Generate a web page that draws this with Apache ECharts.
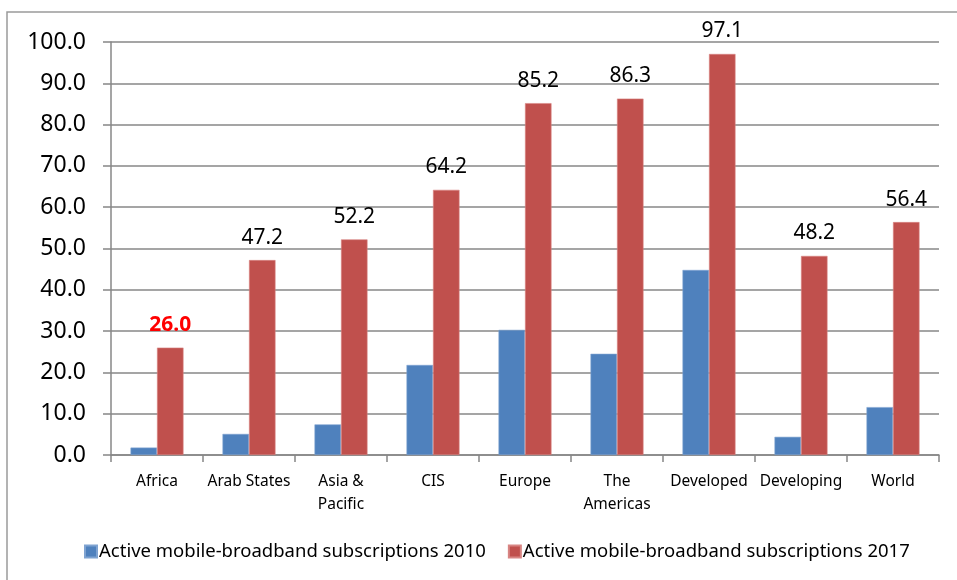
<!DOCTYPE html>
<html>
<head>
<meta charset="utf-8">
<script src="https://cdn.jsdelivr.net/npm/echarts@6/dist/echarts.min.js"></script>
<style>
  html, body { margin: 0; padding: 0; background: #fff; }
  #chart { width: 957px; height: 580px; }
</style>
</head>
<body>
<div id="chart"></div>
<script>
// Regions shown along the category axis
const regions = ['Africa', 'Arab States', 'Asia &\nPacific', 'CIS', 'Europe', 'The\nAmericas', 'Developed', 'Developing', 'World'];

// Active mobile-broadband subscriptions per 100 inhabitants
const subs2010 = [1.8, 5.1, 7.4, 21.8, 30.3, 24.5, 44.8, 4.4, 11.6];
const subs2017 = [26.0, 47.2, 52.2, 64.2, 85.2, 86.3, 97.1, 48.2, 56.4];

const seriesNames = ['Active mobile-broadband subscriptions 2010', 'Active mobile-broadband subscriptions 2017'];

const FONT = 'Noto Sans';
const GRID_GREY = '#878787';

// Africa's 2017 value is called out in bold red
const data2017 = subs2017.map((v, i) => i === 0
  ? { value: v, label: { color: '#ff0000', fontWeight: 'bold' } }
  : v);

const chart = echarts.init(document.getElementById('chart'), null, { renderer: 'canvas' });

chart.setOption({
  animation: false,
  backgroundColor: '#ffffff',
  textStyle: { fontFamily: FONT },
  graphic: [{
    type: 'rect',
    shape: { x: 7, y: 12, width: 980, height: 620 },
    style: { fill: 'none', stroke: '#9a9a9a', lineWidth: 1.5 },
    z: -1
  }],
  grid: { left: 111, right: 18, top: 42, bottom: 125, containLabel: false },
  legend: {
    left: 79,
    top: 537,
    itemWidth: 12,
    itemHeight: 12,
    itemGap: 22,
    icon: 'rect',
    textStyle: { fontFamily: FONT, fontSize: 18.5, color: '#000', padding: [0, 0, 0, -3] },
    data: seriesNames
  },
  xAxis: {
    type: 'category',
    data: regions,
    axisLine: { lineStyle: { color: GRID_GREY, width: 1.5 } },
    axisTick: { show: true, alignWithLabel: false, length: 7, lineStyle: { color: GRID_GREY, width: 1.5 } },
    axisLabel: { interval: 0, color: '#000', fontFamily: FONT, fontSize: 15.5, lineHeight: 23, margin: 15 }
  },
  yAxis: {
    type: 'value',
    min: 0,
    max: 100,
    interval: 10,
    axisLine: { show: true, lineStyle: { color: GRID_GREY, width: 1.5 } },
    axisTick: { show: true, length: 8, lineStyle: { color: GRID_GREY, width: 1.5 } },
    splitLine: { lineStyle: { color: GRID_GREY, width: 1.5 } },
    axisLabel: {
      color: '#000', fontFamily: FONT, fontSize: 23, margin: 25,
      formatter: v => v.toFixed(1)
    }
  },
  series: [
    {
      name: seriesNames[0],
      type: 'bar',
      data: subs2010,
      barWidth: 26.5,
      barGap: '0%',
      itemStyle: { color: '#4F81BD', borderColor: '#7fa3d1', borderWidth: 0.6 }
    },
    {
      name: seriesNames[1],
      type: 'bar',
      data: data2017,
      barWidth: 26.5,
      barGap: '0%',
      itemStyle: { color: '#C0504D', borderColor: '#d88583', borderWidth: 0.6 },
      label: {
        show: true,
        position: 'top',
        distance: 12,
        color: '#000',
        fontFamily: FONT,
        fontSize: 21,
        formatter: p => p.value.toFixed(1)
      }
    }
  ]
});
</script>
</body>
</html>
